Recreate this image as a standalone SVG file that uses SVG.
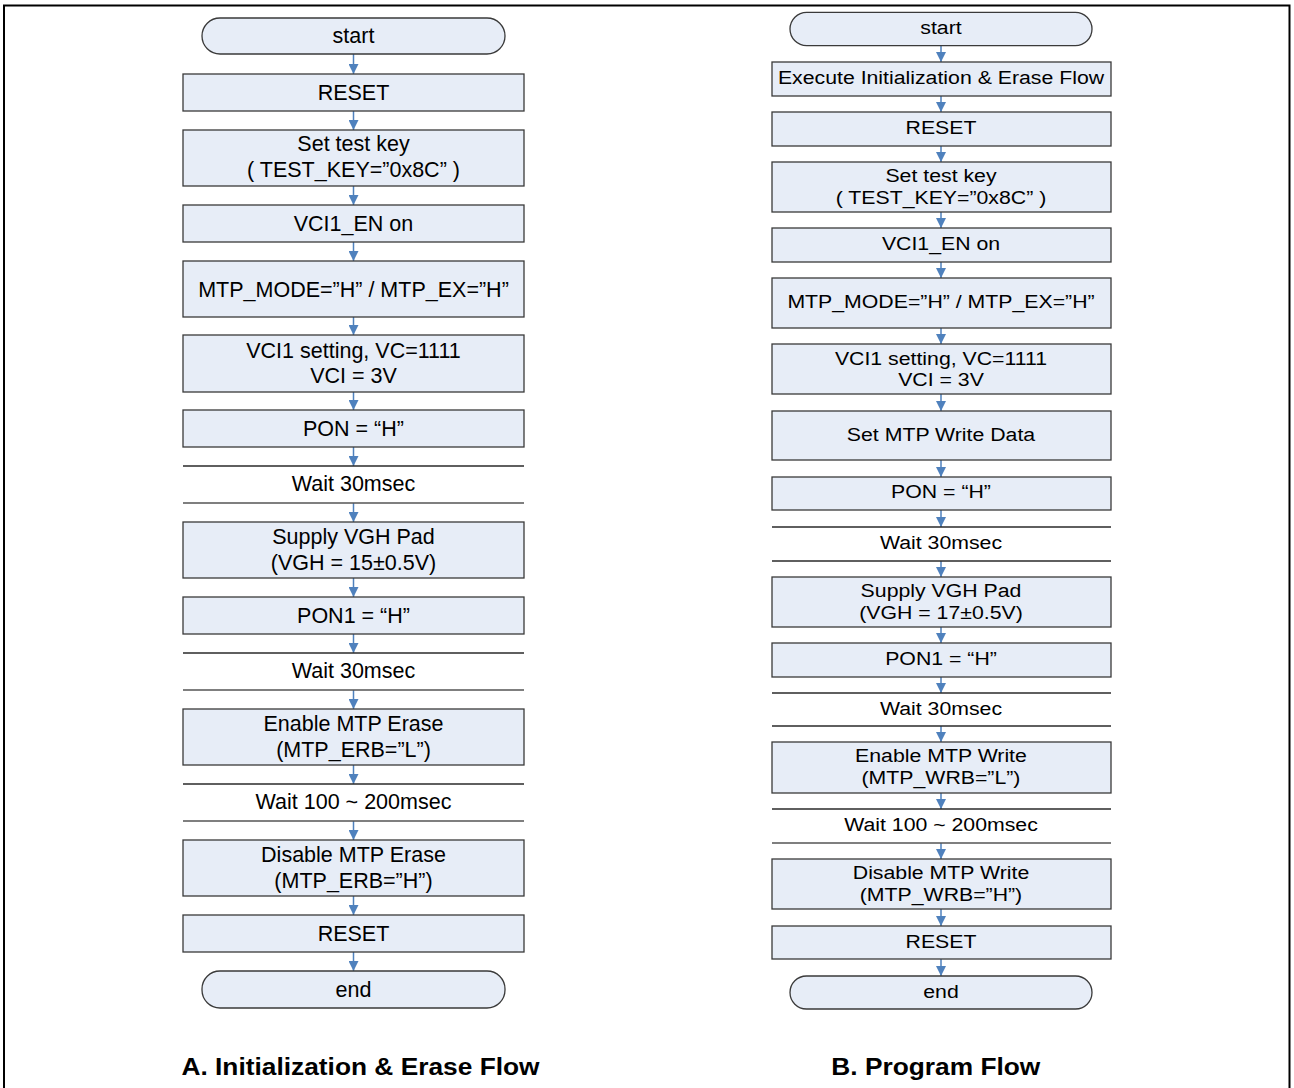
<svg xmlns="http://www.w3.org/2000/svg" width="1294" height="1088" viewBox="0 0 1294 1088">
<style>
.bx{fill:#E7EDF7;stroke:#3a3a3a;stroke-width:1.3}
.wl{stroke:#2a2a2a;stroke-width:1.3}
.wl2{stroke:#555;stroke-width:1.3}
.t{font-family:"Liberation Sans",Arial,sans-serif;font-size:21.5px;fill:#000;text-anchor:middle}
.r{font-family:"Liberation Sans",Arial,sans-serif;font-size:19px;fill:#000;text-anchor:middle}
.ttl{font-family:"Liberation Sans",Arial,sans-serif;font-size:23.5px;font-weight:bold;fill:#000;text-anchor:middle}
.cn{stroke:#4F81BD;stroke-width:1.5;fill:none}
</style>
<defs>
<marker id="ah" markerUnits="userSpaceOnUse" markerWidth="10" markerHeight="10" refX="10" refY="5" orient="auto" viewBox="0 0 10 10">
<path d="M0,0 L10,5 L0,10 z" fill="#4F81BD"/>
</marker>
</defs>
<rect x="0" y="0" width="1294" height="1088" fill="#fff"/>
<path d="M4,1088 V5.5 H1289.5 V1088" fill="none" stroke="#000" stroke-width="2"/>

<g id="connectors">
<line class="cn" x1="353.5" y1="54" x2="353.5" y2="74" marker-end="url(#ah)"/>
<line class="cn" x1="353.5" y1="111" x2="353.5" y2="130" marker-end="url(#ah)"/>
<line class="cn" x1="353.5" y1="186" x2="353.5" y2="205" marker-end="url(#ah)"/>
<line class="cn" x1="353.5" y1="242" x2="353.5" y2="261" marker-end="url(#ah)"/>
<line class="cn" x1="353.5" y1="317" x2="353.5" y2="335" marker-end="url(#ah)"/>
<line class="cn" x1="353.5" y1="392" x2="353.5" y2="410" marker-end="url(#ah)"/>
<line class="cn" x1="353.5" y1="447" x2="353.5" y2="466" marker-end="url(#ah)"/>
<line class="cn" x1="353.5" y1="503" x2="353.5" y2="522" marker-end="url(#ah)"/>
<line class="cn" x1="353.5" y1="578" x2="353.5" y2="597" marker-end="url(#ah)"/>
<line class="cn" x1="353.5" y1="634" x2="353.5" y2="653" marker-end="url(#ah)"/>
<line class="cn" x1="353.5" y1="690" x2="353.5" y2="709" marker-end="url(#ah)"/>
<line class="cn" x1="353.5" y1="765" x2="353.5" y2="784" marker-end="url(#ah)"/>
<line class="cn" x1="353.5" y1="821" x2="353.5" y2="840" marker-end="url(#ah)"/>
<line class="cn" x1="353.5" y1="896" x2="353.5" y2="915" marker-end="url(#ah)"/>
<line class="cn" x1="353.5" y1="952" x2="353.5" y2="971" marker-end="url(#ah)"/>

<line class="cn" x1="941" y1="45.7" x2="941" y2="62" marker-end="url(#ah)"/>
<line class="cn" x1="941" y1="96" x2="941" y2="112" marker-end="url(#ah)"/>
<line class="cn" x1="941" y1="146" x2="941" y2="162" marker-end="url(#ah)"/>
<line class="cn" x1="941" y1="212" x2="941" y2="228" marker-end="url(#ah)"/>
<line class="cn" x1="941" y1="262" x2="941" y2="278" marker-end="url(#ah)"/>
<line class="cn" x1="941" y1="328" x2="941" y2="344" marker-end="url(#ah)"/>
<line class="cn" x1="941" y1="394" x2="941" y2="411" marker-end="url(#ah)"/>
<line class="cn" x1="941" y1="460" x2="941" y2="477" marker-end="url(#ah)"/>
<line class="cn" x1="941" y1="510" x2="941" y2="527" marker-end="url(#ah)"/>
<line class="cn" x1="941" y1="561" x2="941" y2="577" marker-end="url(#ah)"/>
<line class="cn" x1="941" y1="627" x2="941" y2="643" marker-end="url(#ah)"/>
<line class="cn" x1="941" y1="677" x2="941" y2="693" marker-end="url(#ah)"/>
<line class="cn" x1="941" y1="726" x2="941" y2="742" marker-end="url(#ah)"/>
<line class="cn" x1="941" y1="793" x2="941" y2="809" marker-end="url(#ah)"/>
<line class="cn" x1="941" y1="843" x2="941" y2="859" marker-end="url(#ah)"/>
<line class="cn" x1="941" y1="909" x2="941" y2="926" marker-end="url(#ah)"/>
<line class="cn" x1="941" y1="959" x2="941" y2="976" marker-end="url(#ah)"/>
</g>

<!-- Left column -->
<g id="a-start"><rect class="bx" x="202" y="18" width="303" height="36" rx="18"/><text class="t" x="353.5" y="43">start</text></g>
<g id="a-reset1"><rect class="bx" x="183" y="74" width="341" height="37"/><text class="t" x="353.5" y="100">RESET</text></g>
<g id="a-testkey"><rect class="bx" x="183" y="130" width="341" height="56"/><text class="t" x="353.5" y="151">Set test key</text><text class="t" x="353.5" y="177">( TEST_KEY=”0x8C” )</text></g>
<g id="a-vci1en"><rect class="bx" x="183" y="205" width="341" height="37"/><text class="t" x="353.5" y="231">VCI1_EN on</text></g>
<g id="a-mtpmode"><rect class="bx" x="183" y="261" width="341" height="56"/><text class="t" x="353.5" y="296.5">MTP_MODE=”H” / MTP_EX=”H”</text></g>
<g id="a-vci1set"><rect class="bx" x="183" y="335" width="341" height="57"/><text class="t" x="353.5" y="358">VCI1 setting, VC=1111</text><text class="t" x="353.5" y="382.5">VCI = 3V</text></g>
<g id="a-pon"><rect class="bx" x="183" y="410" width="341" height="37"/><text class="t" x="353.5" y="436">PON = “H”</text></g>
<g id="a-wait1"><line class="wl" x1="183" y1="466" x2="524" y2="466"/><line class="wl2" x1="183" y1="503" x2="524" y2="503"/><text class="t" x="353.5" y="491">Wait 30msec</text></g>
<g id="a-vgh"><rect class="bx" x="183" y="522" width="341" height="56"/><text class="t" x="353.5" y="544">Supply VGH Pad</text><text class="t" x="353.5" y="569.5">(VGH = 15±0.5V)</text></g>
<g id="a-pon1"><rect class="bx" x="183" y="597" width="341" height="37"/><text class="t" x="353.5" y="623">PON1 = “H”</text></g>
<g id="a-wait2"><line class="wl" x1="183" y1="653" x2="524" y2="653"/><line class="wl2" x1="183" y1="690" x2="524" y2="690"/><text class="t" x="353.5" y="678">Wait 30msec</text></g>
<g id="a-enerase"><rect class="bx" x="183" y="709" width="341" height="56"/><text class="t" x="353.5" y="731">Enable MTP Erase</text><text class="t" x="353.5" y="756.5">(MTP_ERB=”L”)</text></g>
<g id="a-wait3"><line class="wl" x1="183" y1="784" x2="524" y2="784"/><line class="wl2" x1="183" y1="821" x2="524" y2="821"/><text class="t" x="353.5" y="809">Wait 100 ~ 200msec</text></g>
<g id="a-diserase"><rect class="bx" x="183" y="840" width="341" height="56"/><text class="t" x="353.5" y="862">Disable MTP Erase</text><text class="t" x="353.5" y="887.5">(MTP_ERB=”H”)</text></g>
<g id="a-reset2"><rect class="bx" x="183" y="915" width="341" height="37"/><text class="t" x="353.5" y="941">RESET</text></g>
<g id="a-end"><rect class="bx" x="202" y="971" width="303" height="37" rx="18"/><text class="t" x="353.5" y="997">end</text></g>

<!-- Right column -->
<g id="b-start"><rect class="bx" x="790" y="12.3" width="302" height="33.4" rx="16.7"/><text class="r" transform="matrix(1.12 0 0 1 -112.92 0)" x="941" y="34">start</text></g>
<g id="b-exec"><rect class="bx" x="772" y="62" width="339" height="34"/><text class="r" transform="matrix(1.12 0 0 1 -112.92 0)" x="941" y="84">Execute Initialization &amp; Erase Flow</text></g>
<g id="b-reset1"><rect class="bx" x="772" y="112" width="339" height="34"/><text class="r" transform="matrix(1.12 0 0 1 -112.92 0)" x="941" y="134">RESET</text></g>
<g id="b-testkey"><rect class="bx" x="772" y="162" width="339" height="50"/><text class="r" transform="matrix(1.12 0 0 1 -112.92 0)" x="941" y="182">Set test key</text><text class="r" transform="matrix(1.12 0 0 1 -112.92 0)" x="941" y="204">( TEST_KEY=”0x8C” )</text></g>
<g id="b-vci1en"><rect class="bx" x="772" y="228" width="339" height="34"/><text class="r" transform="matrix(1.12 0 0 1 -112.92 0)" x="941" y="250">VCI1_EN on</text></g>
<g id="b-mtpmode"><rect class="bx" x="772" y="278" width="339" height="50"/><text class="r" transform="matrix(1.12 0 0 1 -112.92 0)" x="941" y="308">MTP_MODE=”H” / MTP_EX=”H”</text></g>
<g id="b-vci1set"><rect class="bx" x="772" y="344" width="339" height="50"/><text class="r" transform="matrix(1.12 0 0 1 -112.92 0)" x="941" y="365">VCI1 setting, VC=1111</text><text class="r" transform="matrix(1.12 0 0 1 -112.92 0)" x="941" y="386.5">VCI = 3V</text></g>
<g id="b-setdata"><rect class="bx" x="772" y="411" width="339" height="49"/><text class="r" transform="matrix(1.12 0 0 1 -112.92 0)" x="941" y="441">Set MTP Write Data</text></g>
<g id="b-pon"><rect class="bx" x="772" y="477" width="339" height="33"/><text class="r" transform="matrix(1.12 0 0 1 -112.92 0)" x="941" y="498.5">PON = “H”</text></g>
<g id="b-wait1"><line class="wl" x1="772" y1="527" x2="1111" y2="527"/><line class="wl" x1="772" y1="561" x2="1111" y2="561"/><text class="r" transform="matrix(1.12 0 0 1 -112.92 0)" x="941" y="549.5">Wait 30msec</text></g>
<g id="b-vgh"><rect class="bx" x="772" y="577" width="339" height="50"/><text class="r" transform="matrix(1.12 0 0 1 -112.92 0)" x="941" y="597.5">Supply VGH Pad</text><text class="r" transform="matrix(1.12 0 0 1 -112.92 0)" x="941" y="619">(VGH = 17±0.5V)</text></g>
<g id="b-pon1"><rect class="bx" x="772" y="643" width="339" height="34"/><text class="r" transform="matrix(1.12 0 0 1 -112.92 0)" x="941" y="665">PON1 = “H”</text></g>
<g id="b-wait2"><line class="wl" x1="772" y1="693" x2="1111" y2="693"/><line class="wl" x1="772" y1="726" x2="1111" y2="726"/><text class="r" transform="matrix(1.12 0 0 1 -112.92 0)" x="941" y="715">Wait 30msec</text></g>
<g id="b-enwrite"><rect class="bx" x="772" y="742" width="339" height="51"/><text class="r" transform="matrix(1.12 0 0 1 -112.92 0)" x="941" y="762.5">Enable MTP Write</text><text class="r" transform="matrix(1.12 0 0 1 -112.92 0)" x="941" y="784.5">(MTP_WRB=”L”)</text></g>
<g id="b-wait3"><line class="wl" x1="772" y1="809" x2="1111" y2="809"/><line class="wl2" x1="772" y1="843" x2="1111" y2="843"/><text class="r" transform="matrix(1.12 0 0 1 -112.92 0)" x="941" y="831">Wait 100 ~ 200msec</text></g>
<g id="b-diswrite"><rect class="bx" x="772" y="859" width="339" height="50"/><text class="r" transform="matrix(1.12 0 0 1 -112.92 0)" x="941" y="879.5">Disable MTP Write</text><text class="r" transform="matrix(1.12 0 0 1 -112.92 0)" x="941" y="901">(MTP_WRB=”H”)</text></g>
<g id="b-reset2"><rect class="bx" x="772" y="926" width="339" height="33"/><text class="r" transform="matrix(1.12 0 0 1 -112.92 0)" x="941" y="948">RESET</text></g>
<g id="b-end"><rect class="bx" x="790" y="976" width="302" height="33" rx="16.5"/><text class="r" transform="matrix(1.12 0 0 1 -112.92 0)" x="941" y="998">end</text></g>

<g id="titles">
<text class="ttl" transform="matrix(1.12 0 0 1 -43.26 0)" x="360.5" y="1075">A. Initialization &amp; Erase Flow</text>
<text class="ttl" transform="matrix(1.12 0 0 1 -112.3 0)" x="935.8" y="1075">B. Program Flow</text>
</g>
</svg>
